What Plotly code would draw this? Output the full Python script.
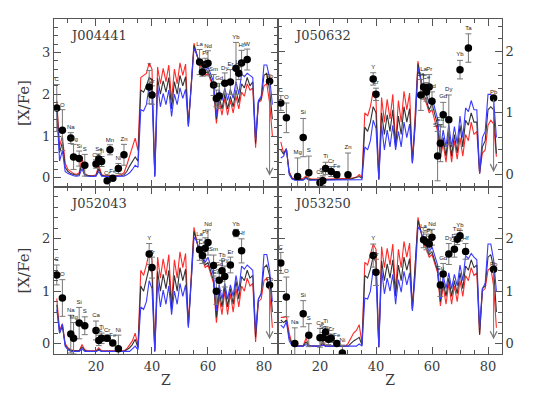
import plotly.graph_objects as go

# Z grid of the model curves
MODEL_Z = list(range(6, 84))

# ---- J004441 ----
J004441_RED = [1.85, 0.75, 1.0, 0.35, 0.2, 0.15, 0.1, 0.08, 0.12, 0.5,
               0.1, 0.06, 0.05, 0.05, 0.07, 0.3, 0.08, 0.05, 0.05, 0.05,
               0.05, 0.06, 0.06, 0.08, 0.12, 0.3, 0.5, 0.7, 0.95, 0.65,
               2.4, 2.45, 2.5, 2.75, 2.6, 0.05, 2.65, 2.25, 2.62, 2.3,
               2.7, 1.85, 2.6, 2.25, 2.75, 2.45, 2.72, 1.25, 2.3, 3.22,
               2.95, 2.7, 2.6, 2.45, 2.5, 2.3, 2.15, 1.3, 1.85, 1.5,
               1.9, 1.5, 1.85, 1.55, 1.95, 1.65, 2.05, 1.95, 2.25, 2.1,
               2.15, 0.72, 1.8, 1.85, 2.2, 2.25, 1.8, 1.0]
J004441_BLACK = [1.75, 0.6, 0.85, 0.25, 0.15, 0.1, 0.08, 0.06, 0.08, 0.35,
                 0.07, 0.05, 0.04, 0.04, 0.05, 0.22, 0.06, 0.04, 0.04, 0.04,
                 0.04, 0.05, 0.05, 0.05, 0.07, 0.15, 0.28, 0.38, 0.5, 0.4,
                 2.1, 2.05, 2.2, 2.4, 2.35, 0.05, 2.38, 2.0, 2.32, 2.05,
                 2.4, 1.65, 2.3, 2.0, 2.45, 2.2, 2.42, 1.25, 2.2, 3.17,
                 2.95, 2.75, 2.65, 2.5, 2.55, 2.35, 2.2, 1.4, 1.95, 1.65,
                 2.0, 1.65, 1.95, 1.7, 2.1, 1.8, 2.25, 2.15, 2.4, 2.2,
                 2.3, 0.82, 1.82, 1.9, 2.45, 2.5, 2.1, 1.4]
J004441_BLUE = [1.6, 0.4, 0.65, 0.15, 0.1, 0.07, 0.05, 0.04, 0.05, 0.22,
                0.05, 0.04, 0.03, 0.03, 0.04, 0.15, 0.04, 0.03, 0.03, 0.03,
                0.03, 0.03, 0.03, 0.03, 0.04, 0.07, 0.12, 0.2, 0.3, 0.25,
                1.63, 1.6, 1.75, 2.2, 2.05, 0.02, 2.2, 1.7, 2.02, 1.75,
                2.1, 1.47, 2.0, 1.75, 2.15, 1.9, 2.12, 1.22, 2.1, 3.1,
                2.95, 2.75, 2.7, 2.55, 2.65, 2.45, 2.3, 1.47, 2.1, 1.85,
                2.15, 1.85, 2.12, 1.9, 2.3, 2.0, 2.48, 2.42, 2.5, 2.45,
                2.4, 0.91, 1.85, 1.95, 2.7, 2.7, 2.4, 1.75]
J004441_EL = ["C", "O", "Na", "Mg", "Si", "S", "Ca", "Sc", "Ti", "Cr", "Mn", "Fe",
              "Ni", "Zn", "Y", "Zr", "La", "Ce", "Pr", "Nd", "Sm", "Eu", "Gd",
              "Dy", "Er", "Yb", "Lu", "Hf", "W", "Pb"]
J004441_Z = [6, 8, 11, 12, 14, 16, 20, 21, 22, 24, 25, 26, 28, 30, 39, 40, 57, 58,
             59, 60, 62, 63, 64, 66, 68, 70, 71, 72, 74, 82]
J004441_XFE = [1.67, 1.14, 0.95, 0.5, 0.46, 0.3, 0.33, 0.45, 0.39, -0.07, 0.67, -0.01,
               0.22, 0.55, 2.17, 1.98, 2.77, 2.53, 2.71, 2.74, 2.22, 1.9, 1.96,
               2.26, 2.29, 2.62, 2.5, 2.75, 2.83, 2.31]
J004441_ERR = [0.56, 0.49, 0.13, 0.3, 0.18, 0.26, 0.1, 0.12, 0.12, 0.05, 0.12, 0.05,
               0.12, 0.25, 0.4, 0.22, 0.3, 0.1, 0.15, 0.3, 0.25, 0.2, 0.3,
               0.25, 0.3, 0.62, 0.15, 0.3, 0.25, 0.0]
J004441_PB_LIMIT = 0.05

# ---- J050632 ----
J050632_RED = [0.53, 0.35, 0.42, 0.05, -0.05, -0.07, -0.07, -0.07, -0.06, -0.02,
               -0.06, -0.07, -0.07, -0.07, -0.07, -0.04, -0.07, -0.07, -0.07, -0.07,
               -0.07, -0.07, -0.07, -0.07, -0.07, -0.06, -0.05, -0.04, 0.0, -0.05,
               1.0, 0.95, 1.1, 1.35, 1.2, -0.08, 1.25, 0.85, 1.22, 0.9,
               1.3, 0.5, 1.2, 0.85, 1.35, 1.05, 1.32, 0.2, 1.0, 1.84,
               1.5, 1.25, 1.15, 1.0, 1.05, 0.85, 0.7, 0.28, 0.5, 0.2,
               0.6, 0.2, 0.55, 0.25, 0.6, 0.3, 0.65, 0.55, 0.85, 0.65,
               0.7, 0.02, 0.35, 0.4, 0.8, 0.88, 0.82, 0.29]
J050632_BLACK = [0.4, 0.33, 0.42, 0.03, -0.06, -0.08, -0.08, -0.08, -0.08, -0.04,
                 -0.08, -0.08, -0.08, -0.08, -0.08, -0.06, -0.08, -0.08, -0.08, -0.08,
                 -0.08, -0.08, -0.08, -0.08, -0.08, -0.07, -0.06, -0.05, -0.03, -0.06,
                 0.77, 0.7, 0.85, 1.1, 1.0, -0.08, 1.0, 0.65, 0.97, 0.7,
                 1.05, 0.45, 0.95, 0.65, 1.1, 0.85, 1.07, 0.19, 0.85, 1.8,
                 1.55, 1.3, 1.2, 1.05, 1.15, 0.95, 0.8, 0.33, 0.6, 0.3,
                 0.7, 0.3, 0.65, 0.35, 0.8, 0.45, 0.88, 0.8, 1.0, 0.85,
                 0.85, 0.02, 0.45, 0.55, 1.05, 1.1, 1.05, 0.34]
J050632_BLUE = [0.27, 0.3, 0.42, 0.0, -0.07, -0.09, -0.09, -0.09, -0.09, -0.06,
                -0.09, -0.09, -0.09, -0.09, -0.09, -0.08, -0.09, -0.09, -0.09, -0.09,
                -0.09, -0.09, -0.09, -0.09, -0.09, -0.08, -0.08, -0.08, -0.08, -0.08,
                0.45, 0.4, 0.55, 0.88, 0.75, -0.08, 0.8, 0.4, 0.72, 0.45,
                0.8, 0.4, 0.7, 0.45, 0.85, 0.6, 0.82, 0.18, 0.8, 1.74,
                1.55, 1.35, 1.3, 1.15, 1.25, 1.05, 0.9, 0.42, 0.72, 0.45,
                0.82, 0.45, 0.78, 0.5, 0.95, 0.6, 1.08, 1.02, 1.2, 1.05,
                1.05, 0.02, 0.6, 0.7, 1.3, 1.3, 1.23, 0.6]
J050632_EL = ["C", "O", "Mg", "Si", "S", "Ca", "Sc", "Ti", "Cr", "Fe", "Zn", "Y",
              "Zr", "Ba", "La", "Ce", "Pr", "Nd", "Sm", "Eu", "Gd", "Dy", "Yb",
              "Ta", "Pb"]
J050632_Z = [6, 8, 12, 14, 16, 20, 21, 22, 24, 26, 30, 39, 40, 56, 57, 58, 59, 60,
             62, 63, 64, 66, 70, 73, 82]
J050632_XFE = [1.16, 0.92, -0.03, 0.6, 0.03, -0.13, -0.1, 0.1, 0.05, 0.0, 0.0, 1.55,
               1.3, 1.29, 1.42, 1.34, 1.42, 1.19, 0.3, 0.51, 0.97, 0.89, 1.7,
               2.05, 1.24]
J050632_ERR = [0.12, 0.24, 0.3, 0.31, 0.27, 0.08, 0.08, 0.1, 0.08, 0.05, 0.35, 0.1,
               0.1, 0.25, 0.2, 0.15, 0.2, 0.15, 0.4, 0.3, 0.2, 0.4, 0.15,
               0.23, 0.0]
J050632_PB_LIMIT = 0.04

# ---- J052043 ----
J052043_RED = [0.86, 0.25, 0.38, 0.0, -0.08, -0.12, -0.13, -0.14, -0.14, -0.02,
               -0.12, -0.14, -0.14, -0.14, -0.14, -0.08, -0.14, -0.14, -0.14, -0.14,
               -0.14, -0.14, -0.14, -0.14, -0.14, -0.1, -0.02, 0.05, 0.2, -0.05,
               1.4, 1.3, 1.5, 1.75, 1.6, -0.15, 1.65, 1.25, 1.62, 1.3,
               1.7, 0.75, 1.6, 1.25, 1.75, 1.45, 1.72, 0.35, 1.3, 2.22,
               1.95, 1.7, 1.6, 1.45, 1.5, 1.3, 1.15, 0.4, 0.9, 0.55,
               1.0, 0.55, 0.95, 0.6, 1.05, 0.7, 1.1, 1.0, 1.25, 1.1,
               1.15, 0.03, 0.8, 0.85, 1.2, 1.25, 1.0, 0.3]
J052043_BLACK = [0.74, 0.2, 0.33, -0.03, -0.1, -0.13, -0.14, -0.14, -0.14, -0.07,
                 -0.13, -0.15, -0.15, -0.15, -0.15, -0.11, -0.15, -0.15, -0.15, -0.15,
                 -0.15, -0.15, -0.15, -0.15, -0.15, -0.12, -0.08, -0.02, 0.08, -0.08,
                 1.1, 1.0, 1.2, 1.45, 1.35, -0.15, 1.38, 1.0, 1.32, 1.05,
                 1.4, 0.65, 1.3, 1.0, 1.45, 1.2, 1.42, 0.33, 1.2, 2.14,
                 1.95, 1.75, 1.65, 1.5, 1.55, 1.35, 1.2, 0.5, 1.0, 0.7,
                 1.1, 0.7, 1.05, 0.75, 1.2, 0.85, 1.28, 1.2, 1.4, 1.25,
                 1.3, 0.12, 0.85, 0.95, 1.45, 1.5, 1.3, 0.6]
J052043_BLUE = [0.65, 0.2, 0.37, -0.05, -0.12, -0.15, -0.15, -0.15, -0.15, -0.1,
                -0.15, -0.15, -0.15, -0.15, -0.15, -0.13, -0.15, -0.15, -0.15, -0.15,
                -0.15, -0.15, -0.15, -0.15, -0.15, -0.15, -0.15, -0.1, -0.05, -0.12,
                0.7, 0.65, 0.8, 1.2, 1.05, -0.15, 1.2, 0.7, 1.02, 0.75,
                1.1, 0.55, 1.0, 0.75, 1.15, 0.9, 1.12, 0.3, 1.1, 2.03,
                1.95, 1.75, 1.7, 1.55, 1.65, 1.45, 1.3, 0.62, 1.12, 0.85,
                1.15, 0.85, 1.12, 0.9, 1.3, 1.0, 1.48, 1.42, 1.5, 1.45,
                1.4, 0.23, 0.85, 0.95, 1.7, 1.7, 1.4, 0.8]
J052043_EL = ["C", "O", "Na", "Mg", "Si", "S", "Ca", "Sc", "Ti", "Cr", "Fe", "Ni",
              "Y", "Zr", "La", "Ce", "Pr", "Nd", "Sm", "Eu", "Gd", "Tb", "Dy",
              "Er", "Yb", "Hf", "Pb"]
J052043_Z = [6, 8, 11, 12, 14, 16, 20, 21, 22, 24, 26, 28, 39, 40, 57, 58, 59, 60,
             62, 63, 64, 65, 66, 68, 70, 72, 82]
J052043_XFE = [1.31, 0.87, 0.18, 0.1, 0.39, 0.34, 0.25, 0.06, 0.1, 0.1, 0.01, -0.1,
               1.71, 1.45, 1.79, 1.68, 1.82, 1.93, 1.49, 1.0, 1.21, 1.39, 1.28,
               1.5, 2.11, 1.77, 1.12]
J052043_ERR = [0.19, 0.35, 0.36, 0.3, 0.3, 0.17, 0.18, 0.1, 0.1, 0.06, 0.05, 0.26,
               0.2, 0.2, 0.2, 0.15, 0.2, 0.24, 0.2, 0.25, 0.2, 0.2, 0.2,
               0.15, 0.07, 0.23, 0.0]
J052043_PB_LIMIT = 0.08

# ---- J053250 ----
J053250_RED = [0.5, 0.5, 0.52, 0.2, 0.0, -0.03, -0.04, -0.04, -0.04, 0.1,
               -0.03, -0.05, -0.05, -0.05, -0.05, 0.05, -0.05, -0.05, -0.05, -0.05,
               -0.05, -0.05, -0.05, -0.05, 0.0, 0.1, 0.2, 0.25, 0.36, 0.0,
               1.55, 1.5, 1.7, 1.9, 1.8, -0.07, 1.85, 1.45, 1.82, 1.5,
               1.9, 1.0, 1.8, 1.45, 1.95, 1.65, 1.92, 0.65, 1.5, 2.41,
               2.15, 1.9, 1.8, 1.65, 1.7, 1.5, 1.35, 0.72, 1.1, 0.75,
               1.15, 0.75, 1.1, 0.8, 1.2, 0.9, 1.3, 1.2, 1.45, 1.3,
               1.35, 0.17, 1.0, 1.05, 1.4, 1.45, 1.1, 0.3]
J053250_BLACK = [0.45, 0.4, 0.45, 0.12, -0.02, -0.05, -0.05, -0.05, -0.05, 0.03,
                 -0.04, -0.05, -0.05, -0.05, -0.05, 0.0, -0.05, -0.05, -0.05, -0.05,
                 -0.05, -0.05, -0.05, -0.05, -0.05, 0.0, 0.05, 0.08, 0.12, -0.03,
                 1.3, 1.25, 1.42, 1.66, 1.55, -0.07, 1.58, 1.2, 1.52, 1.25,
                 1.6, 0.9, 1.5, 1.2, 1.65, 1.4, 1.62, 0.65, 1.4, 2.35,
                 2.15, 1.95, 1.85, 1.7, 1.75, 1.55, 1.4, 0.8, 1.2, 0.9,
                 1.25, 0.9, 1.2, 0.95, 1.35, 1.05, 1.48, 1.4, 1.6, 1.45,
                 1.5, 0.17, 1.05, 1.1, 1.65, 1.7, 1.45, 0.6]
J053250_BLUE = [0.35, 0.3, 0.42, 0.05, -0.04, -0.05, -0.05, -0.05, -0.05, -0.02,
                -0.05, -0.05, -0.05, -0.05, -0.05, -0.03, -0.05, -0.05, -0.05, -0.05,
                -0.05, -0.05, -0.05, -0.05, -0.05, -0.05, -0.05, -0.05, -0.01, -0.05,
                0.87, 0.85, 1.0, 1.42, 1.28, -0.07, 1.42, 0.95, 1.25, 1.0,
                1.32, 0.75, 1.22, 0.98, 1.38, 1.12, 1.35, 0.62, 1.3, 2.23,
                2.15, 1.95, 1.9, 1.75, 1.85, 1.65, 1.5, 0.85, 1.3, 1.05,
                1.35, 1.05, 1.32, 1.1, 1.5, 1.2, 1.68, 1.62, 1.72, 1.65,
                1.6, 0.3, 1.05, 1.15, 1.9, 1.9, 1.6, 1.0]
J053250_EL = ["C", "O", "Na", "Si", "S", "Ca", "Sc", "Ti", "V", "Cr", "Fe", "Ni",
              "Y", "Zr", "La", "Ce", "Pr", "Nd", "Eu", "Gd", "Dy", "Er", "Tm",
              "Yb", "Hf", "Pb"]
J053250_Z = [6, 8, 11, 14, 16, 20, 21, 22, 23, 24, 26, 28, 39, 40, 57, 58, 59, 60,
             63, 64, 66, 68, 69, 70, 72, 82]
J053250_XFE = [1.54, 0.89, 0.0, 0.57, 0.16, 0.11, 0.11, 0.22, 0.08, 0.1, 0.0, -0.18,
               1.68, 1.36, 1.98, 1.94, 1.9, 2.03, 1.12, 1.33, 1.71, 1.8, 1.99,
               2.06, 1.76, 1.42]
J053250_ERR = [0.2, 0.38, 0.3, 0.25, 0.22, 0.18, 0.1, 0.1, 0.1, 0.08, 0.05, 0.15,
               0.22, 0.25, 0.15, 0.15, 0.15, 0.15, 0.22, 0.2, 0.2, 0.15, 0.1,
               0.1, 0.15, 0.0]
J053250_PB_LIMIT = 0.08

# panel frames (the page body adds an 8 px offset, so domains are shifted to match)
X_LEFT = [0.0861, 0.5056]
X_RIGHT = [0.5056, 0.9251]
Y_TOP = [0.5514, 0.9724]
Y_BOTTOM = [0.1328, 0.5514]

PANELS = [
    dict(name="J004441", red=J004441_RED, black=J004441_BLACK, blue=J004441_BLUE,
         el=J004441_EL, z=J004441_Z, xfe=J004441_XFE, err=J004441_ERR,
         pb_lim=J004441_PB_LIMIT, yrange=[-0.22, 3.8],
         xdom=X_LEFT, ydom=Y_TOP, side="left", bottom=False),
    dict(name="J050632", red=J050632_RED, black=J050632_BLACK, blue=J050632_BLUE,
         el=J050632_EL, z=J050632_Z, xfe=J050632_XFE, err=J050632_ERR,
         pb_lim=J050632_PB_LIMIT, yrange=[-0.2, 2.52],
         xdom=X_RIGHT, ydom=Y_TOP, side="right", bottom=False),
    dict(name="J052043", red=J052043_RED, black=J052043_BLACK, blue=J052043_BLUE,
         el=J052043_EL, z=J052043_Z, xfe=J052043_XFE, err=J052043_ERR,
         pb_lim=J052043_PB_LIMIT, yrange=[-0.2, 2.99],
         xdom=X_LEFT, ydom=Y_BOTTOM, side="left", bottom=True),
    dict(name="J053250", red=J053250_RED, black=J053250_BLACK, blue=J053250_BLUE,
         el=J053250_EL, z=J053250_Z, xfe=J053250_XFE, err=J053250_ERR,
         pb_lim=J053250_PB_LIMIT, yrange=[-0.2, 2.99],
         xdom=X_RIGHT, ydom=Y_BOTTOM, side="right", bottom=True),
]

AXCOL = "#555"
TXTCOL = "#3a3a3a"
SERIF = "DejaVu Serif"

fig = go.Figure()
annotations = []

for i, p in enumerate(PANELS, start=1):
    sfx = "" if i == 1 else str(i)
    xr, yr = f"x{sfx}", f"y{sfx}"
    for key, col in (("red", "#ff2a2a"), ("black", "#333333"), ("blue", "#3a3aff")):
        fig.add_trace(go.Scatter(
            x=MODEL_Z, y=p[key], mode="lines", xaxis=xr, yaxis=yr,
            line=dict(color=col, width=1.1), hoverinfo="skip",
        ))
    # observed abundances
    fig.add_trace(go.Scatter(
        x=p["z"], y=p["xfe"], mode="markers", xaxis=xr, yaxis=yr,
        marker=dict(color="black", size=7.5),
        error_y=dict(type="data", array=p["err"], color="#777", thickness=1, width=3),
    ))
    # element labels above the error bars
    fig.add_trace(go.Scatter(
        x=p["z"], y=[v + e + 0.04 for v, e in zip(p["xfe"], p["err"])],
        mode="text", text=p["el"], textposition="top center",
        textfont=dict(family="Liberation Sans", size=6, color="#222"),
        xaxis=xr, yaxis=yr, hoverinfo="skip",
    ))
    # Pb upper limit
    pb = p["el"].index("Pb")
    annotations.append(dict(
        x=p["z"][pb], y=p["pb_lim"], ax=p["z"][pb], ay=p["xfe"][pb],
        xref=xr, yref=yr, axref=xr, ayref=yr, text="", showarrow=True,
        arrowhead=5, arrowsize=1.3, arrowwidth=1, arrowcolor="#777",
    ))
    annotations.append(dict(
        text=p["name"], x=0.0625, y=0.9, xref=f"{xr} domain", yref=f"{yr} domain",
        xanchor="left", yanchor="middle", showarrow=False,
        font=dict(family=SERIF, size=13, color=TXTCOL),
    ))

    fig.update_layout({
        f"xaxis{sfx}": dict(
            domain=p["xdom"], anchor=yr, range=[5, 85], automargin=False,
            showline=True, linecolor=AXCOL, linewidth=1, mirror="ticks",
            ticks="inside", ticklen=7, tickcolor=AXCOL, tick0=0, dtick=20,
            minor=dict(ticks="inside", ticklen=4, dtick=5, tickcolor=AXCOL),
            showticklabels=p["bottom"], showgrid=False, zeroline=False,
            tickfont=dict(family=SERIF, size=13, color=TXTCOL),
            title=dict(text="Z" if p["bottom"] else "", standoff=2,
                       font=dict(family=SERIF, size=14, color=TXTCOL)),
        ),
        f"yaxis{sfx}": dict(
            domain=p["ydom"], anchor=xr, range=p["yrange"], side=p["side"],
            automargin=False,
            showline=True, linecolor=AXCOL, linewidth=1, mirror="ticks",
            ticks="inside", ticklen=7, tickcolor=AXCOL, tick0=0, dtick=1,
            minor=dict(ticks="inside", ticklen=4, dtick=0.2, tickcolor=AXCOL),
            showgrid=False, zeroline=False,
            tickfont=dict(family=SERIF, size=13, color=TXTCOL),
            title=dict(text="[X/Fe]" if p["side"] == "left" else "", standoff=8,
                       font=dict(family=SERIF, size=15, color=TXTCOL)),
        ),
    })

fig.update_layout(
    width=534, height=399,
    margin=dict(l=0, r=0, t=0, b=0, autoexpand=False),
    paper_bgcolor="white", plot_bgcolor="white",
    showlegend=False,
    annotations=annotations,
)

fig.write_html("out.html")
